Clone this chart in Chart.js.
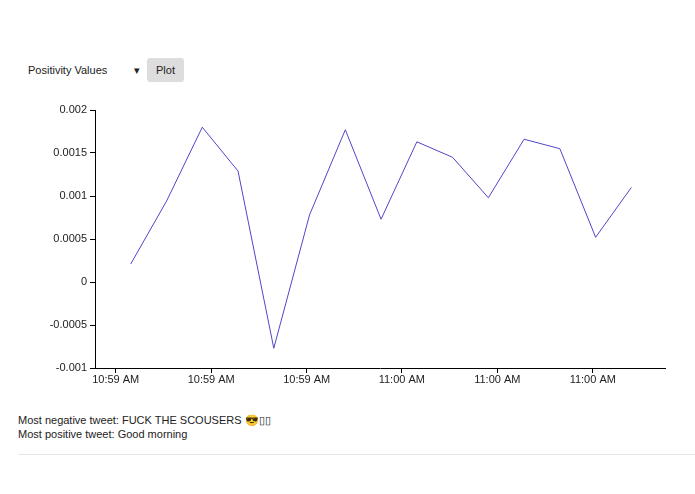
<!DOCTYPE html>
<html>
<head>
<meta charset="utf-8">
<script src="https://cdn.jsdelivr.net/npm/chart.js@4"></script>
<style>
  body { margin: 0; font-family: Arial, "Liberation Sans", sans-serif; font-size: 11px; color: #222; background: #fff; }
  .controls { position: absolute; left: 28px; top: 58px; display: flex; align-items: center; white-space: nowrap; }
  .sel { width: 112px; display: flex; justify-content: space-between; font-size: 11px; }
  .btn { background: #ddd; border-radius: 3px; padding: 6px 9px; margin-left: 7px; font-size: 11px; }
  #wrap { position: absolute; left: 0; top: 100px; width: 695px; height: 300px; }
  .tweets { position: absolute; left: 18px; top: 413px; line-height: 14px; }
  hr { position: absolute; left: 18px; top: 454px; width: 677px; border: 0; border-top: 1px solid #e6e6e6; margin: 0; }
</style>
</head>
<body>
<div class="controls"><span class="sel"><span>Positivity Values</span><span>▾</span></span><span class="btn">Plot</span></div>
<div id="wrap"><canvas id="chart"></canvas></div>
<div class="tweets">Most negative tweet: FUCK THE SCOUSERS 😎▯▯<br>Most positive tweet: Good morning</div>
<hr>
<script>
const values = [0.00021, 0.00094, 0.0018, 0.00129, -0.00077, 0.00078, 0.00177, 0.00073, 0.00163, 0.00145, 0.00098, 0.00166, 0.00155, 0.00052, 0.0011];
const timeTickPositions = [-0.42, 2.25, 4.92, 7.58, 10.25, 12.92];
const timeTickLabels = ['10:59 AM', '10:59 AM', '10:59 AM', '11:00 AM', '11:00 AM', '11:00 AM'];
const yTicks = [-0.001, -0.0005, 0, 0.0005, 0.001, 0.0015, 0.002];

const font = { family: 'Arial, "Liberation Sans", sans-serif', size: 11 };

new Chart(document.getElementById('chart'), {
    type: 'line',
    data: {
        datasets: [{
            data: values.map((v, i) => ({ x: i, y: v })),
            borderColor: '#5046c8',
            borderWidth: 1,
            pointRadius: 0,
            tension: 0
        }]
    },
    options: {
        responsive: true,
        maintainAspectRatio: false,
        animation: false,
        layout: { padding: { top: 10, right: 30 } },
        plugins: { legend: { display: false }, tooltip: { enabled: false } },
        scales: {
            x: {
                type: 'linear', min: -1, max: 14.94,
                afterBuildTicks: s => { s.ticks = timeTickPositions.map(v => ({ value: v })); },
                afterFit: s => { s.height = 32; },
                grid: { drawOnChartArea: false, color: '#000', tickLength: 5 },
                border: { color: '#000' },
                ticks: {
                    color: '#222', font, maxRotation: 0, autoSkip: false, padding: 0,
                    callback: (v, i) => timeTickLabels[i]
                }
            },
            y: {
                min: -0.001, max: 0.002,
                afterBuildTicks: s => { s.ticks = yTicks.map(v => ({ value: v })); },
                afterFit: s => { s.width = 95; },
                grid: { drawOnChartArea: false, color: '#000', tickLength: 5 },
                border: { color: '#000' },
                ticks: { color: '#222', font, padding: 3, callback: v => String(v) }
            }
        }
    }
});
</script>
</body>
</html>
